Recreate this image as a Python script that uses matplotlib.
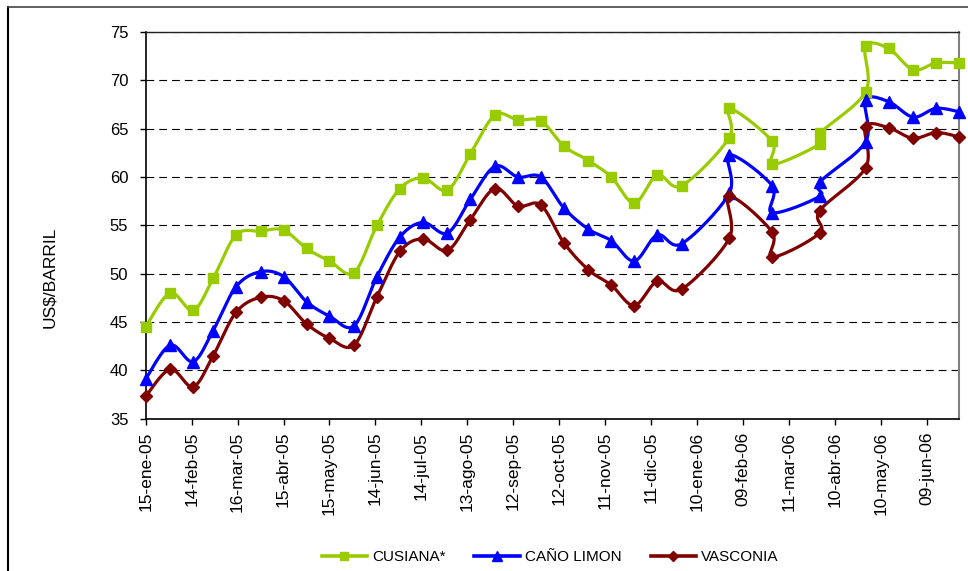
import matplotlib
matplotlib.use("Agg")
import matplotlib.pyplot as plt
import matplotlib.dates as mdates
from matplotlib.lines import Line2D
import numpy as np
import datetime as dt

# ---------------- data ----------------
dates = [
    "2005-01-15", "2005-01-31", "2005-02-15", "2005-02-28", "2005-03-15", "2005-03-31",
    "2005-04-15", "2005-04-30", "2005-05-15", "2005-05-31", "2005-06-15", "2005-06-30",
    "2005-07-15", "2005-07-31", "2005-08-15", "2005-08-31", "2005-09-15", "2005-09-30",
    "2005-10-15", "2005-10-31", "2005-11-15", "2005-11-30", "2005-12-15", "2005-12-31",
    "2006-01-31", "2006-01-31", "2006-02-28", "2006-02-28", "2006-03-31", "2006-03-31",
    "2006-04-30", "2006-04-30", "2006-05-15", "2006-05-31", "2006-06-15", "2006-06-30",
]
cusiana = [44.5, 48.0, 46.2, 49.5, 54.0, 54.4, 54.5, 52.6, 51.3, 50.1, 55.0, 58.8,
           59.9, 58.65, 62.4, 66.4, 65.9, 65.8, 63.2, 61.7, 60.0, 57.3, 60.2, 59.1,
           64.06, 67.1, 63.7, 61.3, 63.4, 64.5, 68.8, 73.5, 73.3, 71.1, 71.8, 71.8]
cano_limon = [39.1, 42.6, 40.9, 44.1, 48.65, 50.2, 49.7, 47.1, 45.6, 44.6, 49.7, 53.8,
              55.3, 54.2, 57.7, 61.1, 60.0, 60.0, 56.8, 54.6, 53.4, 51.3, 54.0, 53.1,
              58.3, 62.3, 59.1, 56.3, 58.0, 59.45, 63.65, 67.96, 67.8, 66.2, 67.1, 66.75]
vasconia = [37.3, 40.1, 38.3, 41.5, 46.0, 47.55, 47.2, 44.8, 43.3, 42.6, 47.6, 52.3,
            53.6, 52.4, 55.6, 58.8, 57.0, 57.1, 53.2, 50.4, 48.8, 46.7, 49.2, 48.4,
            53.65, 58.0, 54.3, 51.7, 54.2, 56.5, 60.95, 65.2, 65.1, 64.0, 64.6, 64.15]
series_names = ["CUSIANA*", "CAÑO LIMON", "VASCONIA"]
tick_labels = ["15-ene-05", "14-feb-05", "16-mar-05", "15-abr-05", "15-may-05", "14-jun-05",
               "14-jul-05", "13-ago-05", "12-sep-05", "12-oct-05", "11-nov-05", "11-dic-05",
               "10-ene-06", "09-feb-06", "11-mar-06", "10-abr-06", "10-may-06", "09-jun-06"]
y_ticks = [35, 40, 45, 50, 55, 60, 65, 70, 75]

# ---------------- style ----------------
colors = ["#99CC00", "#0000FF", "#800000"]
markers = ["s", "^", "D"]
msizes = [7.0, 8.0, 6.2]
FONT = ["Liberation Sans", "DejaVu Sans"]
plt.rcParams["font.family"] = FONT

W, H = 968, 571
fig = plt.figure(figsize=(W / 100, H / 100), dpi=100)
L, R, T, B = 145.7, 959.0, 32.0, 418.6
ax = fig.add_axes([L / W, 1 - B / H, (R - L) / W, (B - T) / H])

x = mdates.datestr2num(dates)
start = mdates.date2num(dt.datetime(2005, 1, 15))
ax.set_xlim(start, start + 531)
ax.set_ylim(35, 75)


def smooth(xs, ys, n=40):
    P = np.column_stack([xs, ys]).astype(float)
    N = len(P)
    out = [P[0]]
    t = np.linspace(0, 1, n)[1:, None]
    for i in range(N - 1):
        p0 = P[i - 1] if i > 0 else P[i]
        p1, p2 = P[i], P[i + 1]
        p3 = P[i + 2] if i + 2 < N else P[i + 1]
        c1 = p1 + (p2 - p0) / 6.0
        c2 = p2 - (p3 - p1) / 6.0
        Bz = (1 - t) ** 3 * p1 + 3 * (1 - t) ** 2 * t * c1 + 3 * (1 - t) * t ** 2 * c2 + t ** 3 * p2
        out.extend(Bz)
    return np.array(out)


handles = []
for vals, c, m, ms, name in zip([cusiana, cano_limon, vasconia], colors, markers, msizes, series_names):
    curve = smooth(x, vals)
    ax.plot(curve[:, 0], curve[:, 1], color=c, lw=2.3, solid_capstyle="round",
            solid_joinstyle="round", clip_on=False, zorder=3)
    ax.plot(x, vals, linestyle="none", marker=m, markersize=ms, color=c,
            markeredgecolor=c, clip_on=False, zorder=4)
    handles.append(Line2D([0], [0], color=c, lw=2.6, marker=m, markersize=ms * 0.85,
                          markeredgecolor=c, label=name))

# axes
tick_pos = [start + 30 * k for k in range(len(tick_labels))]
ax.set_xticks(tick_pos)
ax.set_xticklabels(tick_labels, rotation=90, fontsize=12.5)
ax.set_yticks(y_ticks)
ax.set_yticklabels([str(v) for v in y_ticks], fontsize=12)
ax.tick_params(axis="x", direction="out", length=4.5, width=1, pad=5, colors="black")
ax.tick_params(axis="y", direction="out", length=4.5, width=1, pad=8, colors="black")
ax.yaxis.grid(True, color="black", lw=0.8, linestyle=(0, (7, 4.5)))
ax.set_axisbelow(True)
for s in ["left", "bottom"]:
    ax.spines[s].set_color("black")
    ax.spines[s].set_linewidth(1.2)
ax.spines["top"].set_color("#222222")
ax.spines["top"].set_linewidth(1.0)
ax.spines["right"].set_color("#808080")
ax.spines["right"].set_linewidth(1.5)

fig.text(50 / W, 1 - 277 / H, "US$/BARRIL", rotation=90, ha="center", va="center", fontsize=12.5)

fig.legend(handles=handles, loc="center", bbox_to_anchor=(550 / W, 1 - 557 / H), ncol=3,
           frameon=False, handlelength=3.0, columnspacing=1.9, handletextpad=0.3,
           prop={"family": ["Liberation Sans", "DejaVu Sans"], "size": 11})

# chart-area border (top and left edges visible)
fig.add_artist(Line2D([8 / W, 8 / W], [1 - 7 / H, 0], transform=fig.transFigure, color="black", lw=1.5))
fig.add_artist(Line2D([8 / W, 1], [1 - 7 / H, 1 - 7 / H], transform=fig.transFigure, color="#444444", lw=1.2))

fig.savefig("out.png", dpi=100)
